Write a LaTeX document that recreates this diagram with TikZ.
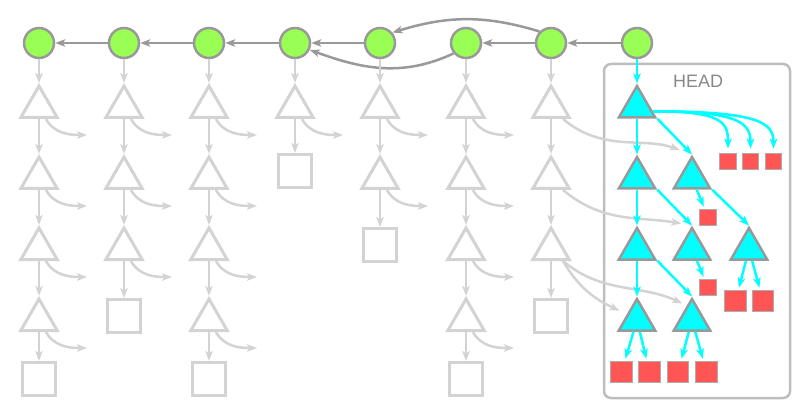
\documentclass[tikz,border=0pt]{standalone}
\usepackage{fontspec}
\setmainfont{Liberation Sans}
\usetikzlibrary{arrows.meta,shapes.geometric}
\definecolor{commitgreen}{HTML}{99FF55}
\definecolor{edgegray}{HTML}{999999}
\definecolor{oldgray}{HTML}{D3D3D3}
\definecolor{boxgray}{HTML}{BDBDBD}
\definecolor{labelgray}{HTML}{888888}
\definecolor{livecyan}{HTML}{00FFFF}
\definecolor{leafred}{HTML}{FF5555}

\begin{document}
\begin{tikzpicture}[
  x=1pt, y=-1pt, >={Stealth[length=10pt,width=7.5pt,inset=2.5pt]},
  commit/.style={circle, draw=edgegray, line width=2.5pt, fill=commitgreen, minimum size=30pt, inner sep=0pt},
  oldtri/.style={regular polygon, regular polygon sides=3, draw=oldgray, line width=3pt, minimum size=42pt, inner sep=0pt},
  oldleaf/.style={rectangle, draw=oldgray, line width=3pt, minimum size=33pt, inner sep=0pt},
  newtri/.style={oldtri, draw=edgegray, fill=livecyan, line width=2.5pt},
  newleaf/.style={rectangle, draw=edgegray!80, fill=leafred, line width=1.2pt, minimum size=16.5pt, inner sep=0pt},
  bigleaf/.style={newleaf, minimum size=21.5pt},
  headbox/.style={draw=boxgray, line width=2.5pt, rounded corners=7pt, minimum width=186pt, minimum height=334pt},
  toparr/.style={->, draw=edgegray, line width=2.5pt},
  oldarr/.style={->, draw=oldgray, line width=2.5pt},
  newarr/.style={->, draw=livecyan, line width=2.5pt}]
  \useasboundingbox (0,0) rectangle (800,414);
  \foreach \c/\x in {1/39,2/124,3/209,4/295,5/380,6/466,7/551,8/637}
    \node[commit, alias=t\c-0] (c\c) at (\x,43) {};
  \foreach \a/\b in {2/1,3/2,4/3,5/4,7/6,8/7} {\draw[toparr] (c\a)--(c\b);}
  \draw[toparr] (c7.135) to[out=163,in=17] (c5.40);
  \draw[toparr] (c6.220) to[out=205,in=-20] (c4.-25);
  \foreach \c/\x/\n/\sy in {1/39/4/379, 2/124/3/316, 3/209/4/379, 4/295/1/171, 5/380/2/245, 6/466/4/379, 7/551/3/316} {
    \foreach \l [remember=\l as \p (initially 0)] in {1,...,\n} {
      \node[oldtri] (t\c-\l) at (\x,{36+71*\l}) {};
      \draw[oldarr] (t\c-\p)--(t\c-\l);
    }
    \node[oldleaf] (s\c) at (\x,\sy) {};
    \draw[oldarr] (t\c-\n)--(s\c);
  }
  \foreach \c/\n in {1/4,2/3,3/4,4/1,5/2,6/4}
    \foreach \l in {1,...,\n} {
      \path (t\c-\l.south) ++(48,16) coordinate (o\c-\l);
      \draw[oldarr] (t\c-\l.-60) to[out=-60,in=180] (o\c-\l);
    }
  \node[headbox] (head) at (697,231) {};
  \node[text=labelgray, font=\fontsize{18}{20}\selectfont, inner sep=0pt] (headlbl) at (698,81.5) {HEAD};
  \foreach \n/\x/\y in {hA1/637/107, hA2/637/178, hA3/637/249, hA4/637/320, hB2/692/178, hB3/692/249, hB4/692/320, hC3/749/249}
    \node[newtri] (\n) at (\x,\y) {};
  \foreach \n/\x/\y in {r1/728/161.5, r2/750.5/161.5, r3/773.5/161.5, q1/708/217.5, q2/708/287.5}
    \node[newleaf] (\n) at (\x,\y) {};
  \foreach \n/\x/\y in {g1/735.5/301, g2/763/301, b1/621.5/372, b2/649.5/372, b3/678/372, b4/706.5/372}
    \node[bigleaf] (\n) at (\x,\y) {};
  \draw[oldarr, shorten >=13pt] (t7-1.-45) to[out=-40,in=160] (hB2.corner 1);
  \draw[oldarr, shorten >=11pt] (t7-2.-45) to[out=-40,in=170] (hB3.corner 1);
  \draw[oldarr, shorten >=5pt] (t7-3.-45) to[out=-40,in=155] (hB4.110);
  \draw[oldarr, shorten >=8pt] (t7-3.-45) to[out=-60,in=155] (hA4.side 1);
  \draw[newarr] (c8)--(hA1);
  \foreach \a/\b in {hA1/hA2, hA2/hA3, hA3/hA4} {\draw[newarr] (\a)--(\b);}
  \foreach \a/\b in {hA1/hB2, hA2/hB3, hA3/hB4, hB2/hC3} {\draw[newarr] (\a.-30)--(\b.corner 1);}
  \foreach \a/\b in {hB2/q1, hB3/q2, hC3/g1, hC3/g2, hA4/b1, hA4/b2, hB4/b3, hB4/b4} {\draw[newarr, shorten >=2pt] (\a)--(\b);}
  \foreach \r/\d in {r1/70, r2/85, r3/105}
    \draw[newarr, shorten >=4pt] (hA1.-15) .. controls +(\d,0) and +(0,-30) .. (\r.north);
\end{tikzpicture}
\end{document}
